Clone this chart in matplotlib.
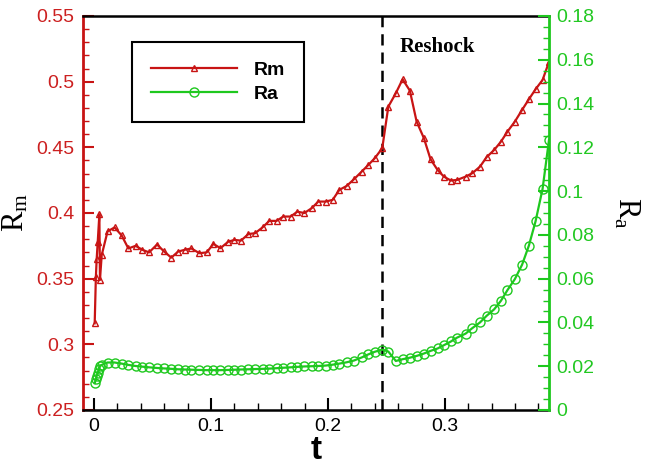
import matplotlib
matplotlib.use("Agg")
import matplotlib.pyplot as plt
from matplotlib.ticker import MultipleLocator, FixedLocator, FuncFormatter

# Time samples shared by both series
t = [0.0005, 0.0015, 0.0022, 0.0031, 0.0045, 0.0050, 0.0065, 0.0115, 0.0175,
     0.0235, 0.0293, 0.0355, 0.0412, 0.0470, 0.0538, 0.0595, 0.0660, 0.0718,
     0.0775, 0.0832, 0.0900, 0.0963, 0.1020, 0.1080, 0.1148, 0.1200, 0.1256,
     0.1320, 0.1376, 0.1440, 0.1498, 0.1560, 0.1618, 0.1680, 0.1738, 0.1798,
     0.1860, 0.1917, 0.1980, 0.2040, 0.2097, 0.2160, 0.2222, 0.2288, 0.2345,
     0.2400, 0.2464, 0.2516, 0.2580, 0.2638, 0.2700, 0.2758, 0.2820, 0.2877,
     0.2937, 0.2991, 0.3051, 0.3105, 0.3177, 0.3234, 0.3300, 0.3356, 0.3421,
     0.3479, 0.3535, 0.3598, 0.3660, 0.3718, 0.3775, 0.3835, 0.3890]

Rm = [0.316, 0.351, 0.365, 0.378, 0.399, 0.349, 0.368, 0.386, 0.389,
      0.383, 0.373, 0.375, 0.372, 0.370, 0.376, 0.371, 0.366, 0.3706,
      0.372, 0.373, 0.3694, 0.370, 0.3765, 0.3732, 0.3782, 0.3795, 0.379,
      0.384, 0.3846, 0.389, 0.394, 0.394, 0.3973, 0.3973, 0.401, 0.400,
      0.4036, 0.4087, 0.4087, 0.410, 0.4176, 0.4206, 0.4257, 0.4315, 0.4366,
      0.4417, 0.4493, 0.481, 0.4912, 0.5018, 0.4932, 0.4696, 0.457, 0.4409,
      0.4328, 0.4277, 0.4247, 0.4252, 0.4277, 0.4303, 0.4353, 0.4425, 0.4480,
      0.4543, 0.4620, 0.4696, 0.4785, 0.4866, 0.4942, 0.5013, 0.5150]

Ra = [0.0122, 0.0140, 0.0155, 0.0171, 0.0186, 0.0201, 0.0206, 0.0217, 0.0217,
      0.0212, 0.0206, 0.0201, 0.0198, 0.0195, 0.0192, 0.0190, 0.0188, 0.0186,
      0.0185, 0.0184, 0.0183, 0.0182, 0.0182, 0.0182, 0.0183, 0.0184, 0.0185,
      0.0186, 0.0187, 0.0188, 0.0189, 0.0191, 0.0193, 0.0195, 0.0197, 0.0199,
      0.0200, 0.0201, 0.0203, 0.0207, 0.0212, 0.0218, 0.0226, 0.0240, 0.0254,
      0.0266, 0.0276, 0.0267, 0.0224, 0.0232, 0.0239, 0.0247, 0.0258, 0.0270,
      0.0281, 0.0296, 0.0313, 0.0331, 0.0349, 0.0374, 0.0400, 0.0430, 0.0460,
      0.0499, 0.0548, 0.0598, 0.0664, 0.0751, 0.0862, 0.1010, 0.1234]

t_reshock = 0.246

rm_ticks = [0.25, 0.3, 0.35, 0.4, 0.45, 0.5, 0.55]
ra_ticks = [0, 0.02, 0.04, 0.06, 0.08, 0.1, 0.12, 0.14, 0.16, 0.18]
t_ticks = [0, 0.1, 0.2, 0.3]

RED = "#C81414"
GREEN = "#1EC81E"
LBL_RED = "#CC2020"
LBL_GREEN = "#22C822"

plt.rcParams["font.family"] = ["Liberation Sans", "DejaVu Sans"]
plt.rcParams["mathtext.fontset"] = "custom"
plt.rcParams["mathtext.rm"] = "Liberation Serif"
plt.rcParams["mathtext.it"] = "Liberation Serif:italic"

fig = plt.figure(figsize=(6.46, 4.68), dpi=100)
ax = fig.add_axes([83 / 646, 1 - 410 / 468, 466 / 646, 394 / 468])
ax2 = ax.twinx()

fmt = FuncFormatter(lambda v, p: ("%g" % round(v, 4)))

line_rm, = ax.plot(t, Rm, color=RED, lw=1.6, marker="^", ms=5,
                   mfc="none", mec=RED, mew=1.0, label="Rm", zorder=3)
line_ra, = ax2.plot(t, Ra, color=GREEN, lw=1.6, marker="o", ms=6.5,
                    mfc="none", mec=GREEN, mew=1.0, label="Ra", zorder=3)

ax.axvline(t_reshock, color="black", lw=1.8, ls=(0, (4.5, 2.8)), zorder=2)

ax.set_xlim(-0.0095, 0.389)
ax.set_ylim(0.25, 0.55)
ax2.set_ylim(0, 0.18)

ax.xaxis.set_major_locator(FixedLocator(t_ticks))
ax.xaxis.set_minor_locator(MultipleLocator(0.02))
ax.yaxis.set_major_locator(FixedLocator(rm_ticks))
ax.yaxis.set_minor_locator(MultipleLocator(0.01))
ax2.yaxis.set_major_locator(FixedLocator(ra_ticks))
ax2.yaxis.set_minor_locator(MultipleLocator(0.005))
ax.xaxis.set_major_formatter(fmt)
ax.yaxis.set_major_formatter(fmt)
ax2.yaxis.set_major_formatter(fmt)

ax.tick_params(axis="x", which="major", direction="in", length=9, width=1.5,
               color="black", labelsize=14, labelcolor="black", pad=6, top=False)
ax.tick_params(axis="x", which="minor", direction="in", length=5, width=1.0,
               color="black", top=False)
ax.tick_params(axis="y", which="major", direction="in", length=8, width=1.5,
               color=RED, labelsize=14, labelcolor=LBL_RED, pad=6)
ax.tick_params(axis="y", which="minor", direction="in", length=4, width=1.0,
               color=RED)
ax2.tick_params(axis="y", which="major", direction="in", length=8, width=1.5,
                color=GREEN, labelsize=14, labelcolor=LBL_GREEN, pad=5)
ax2.tick_params(axis="y", which="minor", direction="in", length=4, width=1.0,
                color=GREEN)

ax.spines["right"].set_visible(False)
ax2.spines["left"].set_visible(False)
ax.spines["left"].set_color(RED)
ax.spines["left"].set_linewidth(2.0)
ax2.spines["right"].set_color(GREEN)
ax2.spines["right"].set_linewidth(2.0)
for sp in ("top", "bottom"):
    ax.spines[sp].set_color("black")
    ax.spines[sp].set_linewidth(1.8)
    ax2.spines[sp].set_visible(False)

ax.set_xlabel("t", fontsize=24, fontweight="bold", labelpad=0)
ax.set_ylabel(r"$\mathrm{R_m}$", fontsize=22, labelpad=4)
ax2.set_ylabel(r"$\mathrm{R_a}$", fontsize=22, rotation=-90, labelpad=34)

ax.text(0.2615, 0.5265, "Reshock", fontsize=15, fontweight="bold",
        family="Liberation Serif", color="black", va="center", ha="left")

leg = ax2.legend([line_rm, line_ra], ["Rm", "Ra"], loc="upper left",
                 bbox_to_anchor=(0.105, 0.934), borderaxespad=0,
                 frameon=True, fancybox=False, edgecolor="black",
                 framealpha=1, numpoints=1, handlelength=4.4,
                 handletextpad=0.85, borderpad=1.0, labelspacing=0.3,
                 prop={"size": 14, "weight": "bold"})
leg.get_frame().set_linewidth(1.5)

fig.savefig("out.png", dpi=100)
